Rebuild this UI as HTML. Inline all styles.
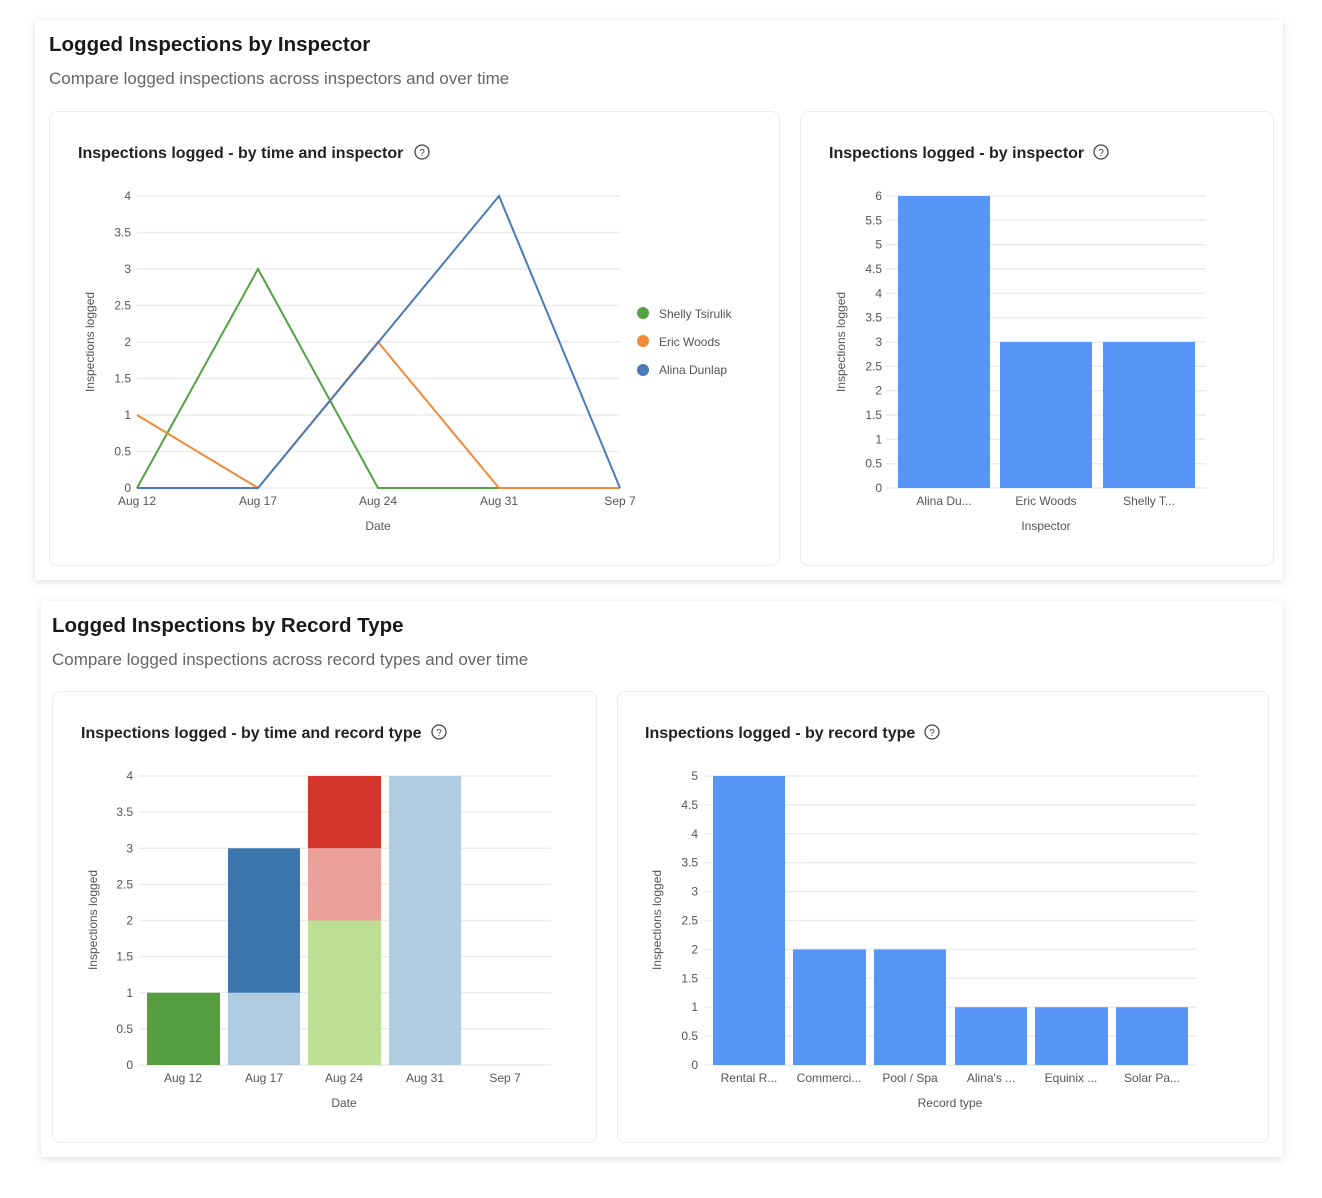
<!DOCTYPE html>
<html><head><meta charset="utf-8"><style>
html,body{margin:0;padding:0;background:#fff;}
svg{display:block;font-family:"Liberation Sans",sans-serif;}
.t{fill:#555;font-size:12px;}
.g{stroke:#ececec;stroke-width:1.5;}
.h1{font-size:20.5px;fill:#1a1a1a;font-weight:bold;}
.h2{font-size:17px;fill:#666;}
.h3{font-size:16px;fill:#222;font-weight:bold;}
.ax{font-size:12px;fill:#555;}
</style></head><body>
<svg width="1322" height="1198" viewBox="0 0 1322 1198" xmlns="http://www.w3.org/2000/svg">
<defs><filter id="sh" x="-5%" y="-5%" width="110%" height="110%"><feDropShadow dx="0" dy="2" stdDeviation="4" flood-color="#000" flood-opacity="0.12"/></filter></defs>
<rect x="35" y="20" width="1248" height="560" fill="#fff" filter="url(#sh)"/>
<rect x="41" y="601" width="1242" height="556" fill="#fff" filter="url(#sh)"/>
<text x="49" y="51" class="h1">Logged Inspections by Inspector</text>
<text x="49" y="84" class="h2">Compare logged inspections across inspectors and over time</text>
<text x="52" y="632" class="h1">Logged Inspections by Record Type</text>
<text x="52" y="665" class="h2">Compare logged inspections across record types and over time</text>
<rect x="49.5" y="111.5" width="730" height="454" rx="8" fill="#fff" stroke="#ececec"/>
<rect x="800.5" y="111.5" width="473" height="454" rx="8" fill="#fff" stroke="#ececec"/>
<rect x="52.5" y="691.5" width="544" height="451" rx="8" fill="#fff" stroke="#ececec"/>
<rect x="617.5" y="691.5" width="651" height="451" rx="8" fill="#fff" stroke="#ececec"/>

<!-- Chart A -->
<text x="78" y="158" class="h3">Inspections logged - by time and inspector</text>
<circle cx="422" cy="152" r="7" fill="none" stroke="#444" stroke-width="1.3"/><text x="422" y="156" font-size="10" text-anchor="middle" fill="#444">?</text>
<g class="g">
<line x1="137" x2="620" y1="196" y2="196"/><line x1="137" x2="620" y1="232.5" y2="232.5"/><line x1="137" x2="620" y1="269" y2="269"/><line x1="137" x2="620" y1="305.5" y2="305.5"/><line x1="137" x2="620" y1="342" y2="342"/><line x1="137" x2="620" y1="378.5" y2="378.5"/><line x1="137" x2="620" y1="415" y2="415"/><line x1="137" x2="620" y1="451.5" y2="451.5"/><line x1="137" x2="620" y1="488" y2="488"/>
</g>
<g class="t" text-anchor="end">
<text x="131" y="200">4</text><text x="131" y="236.5">3.5</text><text x="131" y="273">3</text><text x="131" y="309.5">2.5</text><text x="131" y="346">2</text><text x="131" y="382.5">1.5</text><text x="131" y="419">1</text><text x="131" y="455.5">0.5</text><text x="131" y="492">0</text>
</g>
<g class="t" text-anchor="middle">
<text x="137" y="505">Aug 12</text><text x="258" y="505">Aug 17</text><text x="378" y="505">Aug 24</text><text x="499" y="505">Aug 31</text><text x="620" y="505">Sep 7</text>
<text x="378" y="530">Date</text>
</g>
<text transform="translate(94,342) rotate(-90)" class="ax" text-anchor="middle">Inspections logged</text>
<polyline points="137,488 258,269 378,488 499,488 620,488" fill="none" stroke="#55a144" stroke-width="2"/>
<polyline points="137,415 258,488 378,342 499,488 620,488" fill="none" stroke="#f18a3a" stroke-width="2"/>
<polyline points="137,488 258,488 499,196 620,488" fill="none" stroke="#4a7ab7" stroke-width="2"/>
<circle cx="643" cy="313" r="6" fill="#55a144"/><text x="659" y="318" class="t">Shelly Tsirulik</text>
<circle cx="643" cy="341" r="6" fill="#f18a3a"/><text x="659" y="346" class="t">Eric Woods</text>
<circle cx="643" cy="370" r="6" fill="#4a7ab7"/><text x="659" y="374" class="t">Alina Dunlap</text>

<!-- Chart B -->
<text x="829" y="158" class="h3">Inspections logged - by inspector</text>
<circle cx="1101" cy="152" r="7" fill="none" stroke="#444" stroke-width="1.3"/><text x="1101" y="156" font-size="10" text-anchor="middle" fill="#444">?</text>
<g class="g">
<line x1="886" x2="1206" y1="196" y2="196"/><line x1="886" x2="1206" y1="220.3" y2="220.3"/><line x1="886" x2="1206" y1="244.7" y2="244.7"/><line x1="886" x2="1206" y1="269" y2="269"/><line x1="886" x2="1206" y1="293.3" y2="293.3"/><line x1="886" x2="1206" y1="317.7" y2="317.7"/><line x1="886" x2="1206" y1="342" y2="342"/><line x1="886" x2="1206" y1="366.3" y2="366.3"/><line x1="886" x2="1206" y1="390.7" y2="390.7"/><line x1="886" x2="1206" y1="415" y2="415"/><line x1="886" x2="1206" y1="439.3" y2="439.3"/><line x1="886" x2="1206" y1="463.7" y2="463.7"/><line x1="886" x2="1206" y1="488" y2="488"/>
</g>
<g class="t" text-anchor="end">
<text x="882" y="200">6</text><text x="882" y="224.3">5.5</text><text x="882" y="248.7">5</text><text x="882" y="273">4.5</text><text x="882" y="297.3">4</text><text x="882" y="321.7">3.5</text><text x="882" y="346">3</text><text x="882" y="370.3">2.5</text><text x="882" y="394.7">2</text><text x="882" y="419">1.5</text><text x="882" y="443.3">1</text><text x="882" y="467.7">0.5</text><text x="882" y="492">0</text>
</g>
<g fill="#5796f6">
<rect x="898" y="196" width="92" height="292"/><rect x="1000" y="342" width="92" height="146"/><rect x="1103" y="342" width="92" height="146"/>
</g>
<g class="t" text-anchor="middle">
<text x="944" y="505">Alina Du...</text><text x="1046" y="505">Eric Woods</text><text x="1149" y="505">Shelly T...</text>
<text x="1046" y="530">Inspector</text>
</g>
<text transform="translate(845,342) rotate(-90)" class="ax" text-anchor="middle">Inspections logged</text>

<!-- Chart C -->
<text x="81" y="738" class="h3">Inspections logged - by time and record type</text>
<circle cx="439" cy="732" r="7" fill="none" stroke="#444" stroke-width="1.3"/><text x="439" y="736" font-size="10" text-anchor="middle" fill="#444">?</text>
<g class="g">
<line x1="139" x2="551" y1="776" y2="776"/><line x1="139" x2="551" y1="812.1" y2="812.1"/><line x1="139" x2="551" y1="848.25" y2="848.25"/><line x1="139" x2="551" y1="884.4" y2="884.4"/><line x1="139" x2="551" y1="920.5" y2="920.5"/><line x1="139" x2="551" y1="956.6" y2="956.6"/><line x1="139" x2="551" y1="992.75" y2="992.75"/><line x1="139" x2="551" y1="1028.9" y2="1028.9"/><line x1="139" x2="551" y1="1065" y2="1065"/>
</g>
<g class="t" text-anchor="end">
<text x="133" y="780">4</text><text x="133" y="816.1">3.5</text><text x="133" y="852.25">3</text><text x="133" y="888.4">2.5</text><text x="133" y="924.5">2</text><text x="133" y="960.6">1.5</text><text x="133" y="996.75">1</text><text x="133" y="1032.9">0.5</text><text x="133" y="1069">0</text>
</g>
<rect x="147" y="992.75" width="73" height="72.25" fill="#569e3f"/>
<rect x="228" y="992.75" width="72" height="72.25" fill="#afcce0"/>
<rect x="228" y="848.25" width="72" height="144.5" fill="#3b76ae"/>
<rect x="308" y="920.5" width="73" height="144.5" fill="#bddf93"/>
<rect x="308" y="848.25" width="73" height="72.25" fill="#eca09b"/>
<rect x="308" y="776" width="73" height="72.25" fill="#d3352c"/>
<rect x="389" y="776" width="72" height="289" fill="#afcce0"/>
<g class="t" text-anchor="middle">
<text x="183" y="1082">Aug 12</text><text x="264" y="1082">Aug 17</text><text x="344" y="1082">Aug 24</text><text x="425" y="1082">Aug 31</text><text x="505" y="1082">Sep 7</text>
<text x="344" y="1107">Date</text>
</g>
<text transform="translate(97,920) rotate(-90)" class="ax" text-anchor="middle">Inspections logged</text>

<!-- Chart D -->
<text x="645" y="738" class="h3">Inspections logged - by record type</text>
<circle cx="932" cy="732" r="7" fill="none" stroke="#444" stroke-width="1.3"/><text x="932" y="736" font-size="10" text-anchor="middle" fill="#444">?</text>
<g class="g">
<line x1="705" x2="1197" y1="776" y2="776"/><line x1="705" x2="1197" y1="804.9" y2="804.9"/><line x1="705" x2="1197" y1="833.8" y2="833.8"/><line x1="705" x2="1197" y1="862.7" y2="862.7"/><line x1="705" x2="1197" y1="891.6" y2="891.6"/><line x1="705" x2="1197" y1="920.5" y2="920.5"/><line x1="705" x2="1197" y1="949.4" y2="949.4"/><line x1="705" x2="1197" y1="978.3" y2="978.3"/><line x1="705" x2="1197" y1="1007.2" y2="1007.2"/><line x1="705" x2="1197" y1="1036.1" y2="1036.1"/><line x1="705" x2="1197" y1="1065" y2="1065"/>
</g>
<g class="t" text-anchor="end">
<text x="698" y="780">5</text><text x="698" y="808.9">4.5</text><text x="698" y="837.8">4</text><text x="698" y="866.7">3.5</text><text x="698" y="895.6">3</text><text x="698" y="924.5">2.5</text><text x="698" y="953.4">2</text><text x="698" y="982.3">1.5</text><text x="698" y="1011.2">1</text><text x="698" y="1040.1">0.5</text><text x="698" y="1069">0</text>
</g>
<g fill="#5796f6">
<rect x="713" y="776" width="72" height="289"/><rect x="793" y="949.4" width="73" height="115.6"/><rect x="874" y="949.4" width="72" height="115.6"/><rect x="955" y="1007.2" width="72" height="57.8"/><rect x="1035" y="1007.2" width="73" height="57.8"/><rect x="1116" y="1007.2" width="72" height="57.8"/>
</g>
<g class="t" text-anchor="middle">
<text x="749" y="1082">Rental R...</text><text x="829" y="1082">Commerci...</text><text x="910" y="1082">Pool / Spa</text><text x="991" y="1082">Alina's ...</text><text x="1071" y="1082">Equinix ...</text><text x="1152" y="1082">Solar Pa...</text>
<text x="950" y="1107">Record type</text>
</g>
<text transform="translate(661,920) rotate(-90)" class="ax" text-anchor="middle">Inspections logged</text>
</svg>
</body></html>
